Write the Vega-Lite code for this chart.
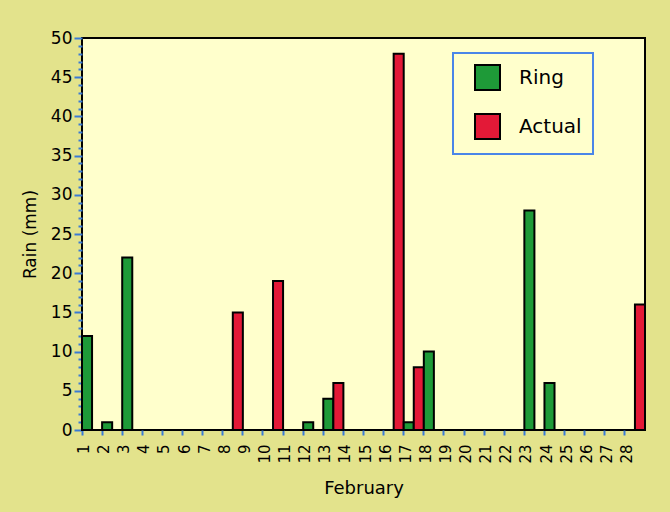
{
  "$schema": "https://vega.github.io/schema/vega-lite/v6.json",
  "autosize": "none",
  "width": 563,
  "height": 392,
  "padding": {"left": 82, "top": 38, "right": 25, "bottom": 82},
  "background": "#e3e38c",
  "data": {
    "values": [
      {"day": 1, "series": "Ring", "rain": 12},
      {"day": 2, "series": "Ring", "rain": 1},
      {"day": 3, "series": "Ring", "rain": 22},
      {"day": 8, "series": "Actual", "rain": 15},
      {"day": 10, "series": "Actual", "rain": 19},
      {"day": 12, "series": "Ring", "rain": 1},
      {"day": 13, "series": "Ring", "rain": 4},
      {"day": 13, "series": "Actual", "rain": 6},
      {"day": 16, "series": "Actual", "rain": 48},
      {"day": 17, "series": "Ring", "rain": 1},
      {"day": 17, "series": "Actual", "rain": 8},
      {"day": 18, "series": "Ring", "rain": 10},
      {"day": 21, "series": "Actual", "rain": 0},
      {"day": 23, "series": "Ring", "rain": 28},
      {"day": 24, "series": "Ring", "rain": 6},
      {"day": 28, "series": "Actual", "rain": 16}
    ]
  },
  "mark": {"type": "bar", "stroke": "#000000", "strokeWidth": 2},
  "encoding": {
    "x": {
      "field": "day",
      "type": "ordinal",
      "scale": {
        "domain": [1, 2, 3, 4, 5, 6, 7, 8, 9, 10, 11, 12, 13, 14, 15, 16, 17, 18, 19, 20, 21, 22, 23, 24, 25, 26, 27, 28],
        "paddingInner": 0,
        "paddingOuter": 0
      },
      "axis": {
        "title": "February",
        "titleFontSize": 18,
        "titleFontWeight": "normal",
        "titlePadding": 16,
        "labelAngle": 270,
        "labelAlign": "right",
        "labelBaseline": "bottom",
        "labelFontSize": 15,
        "labelPadding": 9,
        "bandPosition": 0,
        "tickSize": 5,
        "tickWidth": 2,
        "tickColor": "#3a7bd5",
        "domain": false
      }
    },
    "xOffset": {
      "field": "series",
      "type": "nominal",
      "scale": {"domain": ["Ring", "Actual"], "paddingInner": 0, "paddingOuter": 0}
    },
    "y": {
      "field": "rain",
      "type": "quantitative",
      "scale": {"domain": [0, 50], "nice": false},
      "axis": {
        "title": "Rain (mm)",
        "titleFontSize": 17,
        "titleFontWeight": "normal",
        "titlePadding": 11,
        "values": [0, 1, 2, 3, 4, 5, 6, 7, 8, 9, 10, 11, 12, 13, 14, 15, 16, 17, 18, 19, 20, 21, 22, 23, 24, 25, 26, 27, 28, 29, 30, 31, 32, 33, 34, 35, 36, 37, 38, 39, 40, 41, 42, 43, 44, 45, 46, 47, 48, 49, 50],
        "labelExpr": "datum.value % 5 === 0 ? datum.label : ''",
        "labelFontSize": 17,
        "labelPadding": 2,
        "labelFlush": false,
        "tickSize": {"condition": {"test": "datum.value % 5 === 0", "value": 8}, "value": 4},
        "tickWidth": 2,
        "tickColor": "#3a7bd5",
        "grid": false,
        "domain": false
      }
    },
    "color": {
      "field": "series",
      "type": "nominal",
      "scale": {"domain": ["Ring", "Actual"], "range": ["#1e9a38", "#e31937"]},
      "legend": {
        "title": null,
        "orient": "none",
        "legendX": 371,
        "legendY": 15,
        "symbolType": "square",
        "symbolSize": 625,
        "symbolStrokeColor": "#000000",
        "symbolStrokeWidth": 2,
        "symbolOffset": 10,
        "labelFontSize": 20,
        "labelOffset": 18,
        "rowPadding": 16,
        "padding": 11,
        "strokeColor": "#4a86e8",
        "fillColor": "#ffffcc",
        "encode": {"legend": {"update": {"strokeWidth": {"value": 2}}}}
      }
    }
  },
  "config": {
    "font": "DejaVu Sans",
    "view": {"fill": "#ffffcc", "stroke": "#000000", "strokeWidth": 2},
    "axis": {"labelColor": "#000000", "titleColor": "#000000"},
    "legend": {"labelColor": "#000000"}
  }
}
